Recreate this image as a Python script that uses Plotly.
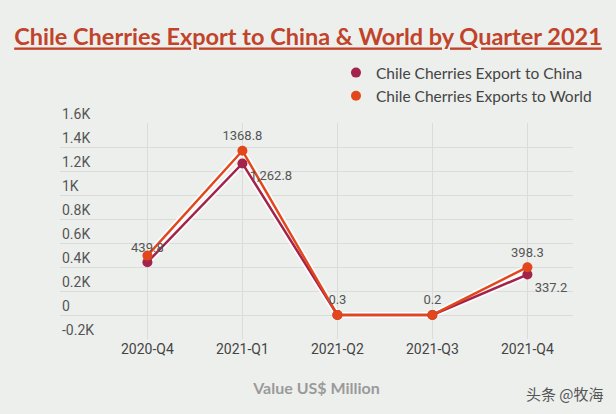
import plotly.graph_objects as go

quarters = ["2020-Q4", "2021-Q1", "2021-Q2", "2021-Q3", "2021-Q4"]
china = [439.8, 1262.8, 0.1, 0.1, 337.2]
world = [495.0, 1368.8, 0.3, 0.2, 398.3]
china_labels = ["439.8", "1,262.8", "", "", "337.2"]
world_labels = ["", "1368.8", "0.3", "0.2", "398.3"]
china_textpos = ["top center", "bottom right", "bottom right", "bottom right", "bottom right"]
tick_vals = [-200, 0, 200, 400, 600, 800, 1000, 1200, 1400, 1600]
tick_text = ["-0.2K", "0", "0.2K", "0.4K", "0.6K", "0.8K", "1K", "1.2K", "1.4K", "1.6K"]

C_CHINA = "#a3234a"
C_WORLD = "#e2471c"
BG = "#edefed"
LABEL_FONT = dict(family="Roboto", size=13, color="#555555")

fig = go.Figure()
# white halo under lines, then coloured lines
for vals in (china, world):
    fig.add_trace(go.Scatter(x=quarters, y=vals, mode="lines",
                             line=dict(color="rgba(255,255,255,0.85)", width=6),
                             showlegend=False, hoverinfo="skip"))
for vals, col in ((china, C_CHINA), (world, C_WORLD)):
    fig.add_trace(go.Scatter(x=quarters, y=vals, mode="lines",
                             line=dict(color=col, width=2.5),
                             showlegend=False, hoverinfo="skip"))
fig.add_trace(go.Scatter(x=quarters, y=china, mode="markers+text",
                         name="Chile Cherries Export to China",
                         marker=dict(color=C_CHINA, size=10),
                         text=china_labels, textposition=china_textpos,
                         textfont=LABEL_FONT))
fig.add_trace(go.Scatter(x=quarters, y=world, mode="markers+text",
                         name="Chile Cherries Exports to World",
                         marker=dict(color=C_WORLD, size=10),
                         text=world_labels, textposition="top center",
                         textfont=LABEL_FONT))

annotations = [dict(text=t, x=0, xref="paper", y=v, yref="y", xanchor="left",
                    yanchor="bottom", showarrow=False, yshift=-1,
                    font=dict(family="Roboto", size=14, color="#555555"))
               for v, t in zip(tick_vals, tick_text)]
annotations.append(dict(text="头条 @牧海", xref="paper", yref="paper", x=1.065, y=-0.25,
                        xanchor="right", yanchor="middle", showarrow=False,
                        font=dict(family="Noto Sans CJK SC", size=15, color="#555555")))

fig.update_layout(
    width=616, height=414,
    margin=dict(l=60, r=43, t=123, b=75),
    paper_bgcolor=BG, plot_bgcolor=BG,
    title=dict(text="<u>Chile Cherries Export to China & World by Quarter 2021</u>",
               x=0.5, xanchor="center", y=0.91, yanchor="middle",
               font=dict(family="Lato", size=23.5, color="#c0432a", weight="bold")),
    legend=dict(x=0.538, y=1.31, xanchor="left", yanchor="top",
                font=dict(family="Lato", size=15.5, color="#444444"),
                bgcolor="rgba(0,0,0,0)", tracegroupgap=0, itemwidth=30),
    showlegend=True,
    xaxis=dict(type="category", range=[-0.92, 4.48], showgrid=True, gridcolor="#d9dcd9",
               zeroline=False, showline=False,
               tickfont=dict(family="Roboto", size=14, color="#444444"),
               title=dict(text="Value US$ Million", standoff=26,
                          font=dict(family="Lato", size=16, color="#9a9a9a", weight="bold"))),
    yaxis=dict(range=[-200, 1600], tickvals=tick_vals, showticklabels=False,
               showgrid=True, gridcolor="#d9dcd9", zeroline=False, showline=False),
    annotations=annotations,
)

fig.write_html("out.html", config={"displayModeBar": False},
               post_script="document.body.style.margin='0';document.body.style.overflow='hidden';")
